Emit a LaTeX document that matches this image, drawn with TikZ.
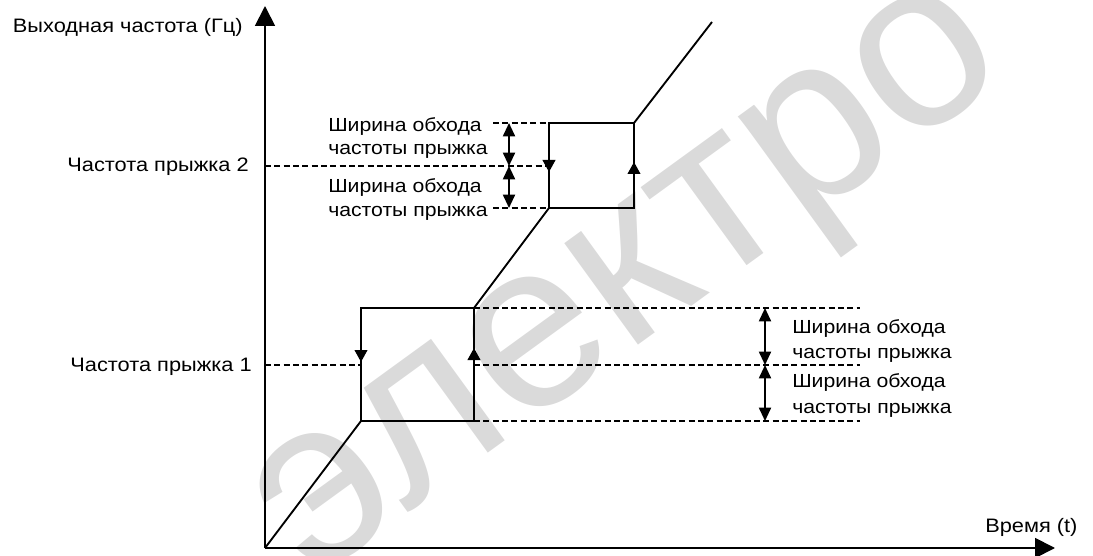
\documentclass[tikz,border=0pt]{standalone}
\usepackage{fontspec}
\setmainfont{Liberation Sans}[FakeStretch=1.12]
\newfontfamily\wmfont{Liberation Sans}
\usetikzlibrary{arrows.meta}
\definecolor{wmgray}{RGB}{218,218,218}
\begin{document}
\begin{tikzpicture}[x=0.75pt,y=-0.75pt,
  axisline/.style={line width=1.4pt,-{Triangle[length=15pt,width=15pt]}},
  curve/.style={line width=1.4pt,line join=miter},
  dline/.style={line width=0.95pt,dash pattern=on 4.5pt off 2.5pt},
  midarrow/.style={line width=1.4pt,-{Triangle[length=9pt,width=9.5pt]}},
  dimarrow/.style={line width=1.4pt,{Triangle[length=10pt,width=9pt]}-{Triangle[length=10pt,width=9pt]}},
  lbl/.style={font=\fontsize{14.2}{17}\selectfont,inner sep=0pt},
  biglbl/.style={font=\fontsize{14.6}{17}\selectfont,inner sep=0pt}
]
\useasboundingbox (0,0) rectangle (1093,556);
% watermark
\node[rotate=36,text=wmgray,font=\wmfont\fontsize{178}{178}\selectfont,inner sep=0pt] (wm) at (640,295) {электро};

% key points
\coordinate (O) at (265,548);
\coordinate (Ytip) at (265,6);
\coordinate (Xtip) at (1055,548);
\coordinate (A1) at (361,421); \coordinate (B1) at (474,421);
\coordinate (C1) at (474,308); \coordinate (D1) at (361,308);
\coordinate (A2) at (549,208); \coordinate (B2) at (634,208);
\coordinate (C2) at (634,123); \coordinate (D2) at (549,123);
\coordinate (E) at (712,22);
\coordinate (M1L) at (265,365); \coordinate (M1B) at (361,365);
\coordinate (M1R) at (474,365); \coordinate (M1E) at (860,365);
\coordinate (T1E) at (860,308); \coordinate (U1E) at (860,421);
\coordinate (M2L) at (265,166); \coordinate (M2B) at (549,166);
\coordinate (T2S) at (493,123); \coordinate (U2S) at (493,208);

% dashed guide lines
\draw[dline] (M2L) -- (M2B);
\draw[dline] (T2S) -- (D2);
\draw[dline] (U2S) -- (A2);
\draw[dline] (M1L) -- (M1B);
\draw[dline] (M1R) -- (M1E);
\draw[dline] (C1) -- (T1E);
\draw[dline] (B1) -- (U1E);

% axes
\draw[axisline] (O) -- (Ytip);
\draw[axisline] (O) -- (Xtip);

% curve
\draw[curve] (O) -- (A1) -- (B1) -- (C1) -- (A2) -- (B2) -- (C2) -- (E);
\draw[curve] (A1) -- (D1) -- (C1);
\draw[curve] (A2) -- (D2) -- (C2);

% direction arrows on box sides
\draw[midarrow] (361,340) -- (361,362);
\draw[midarrow] (474,372) -- (474,348);
\draw[midarrow] (549,150) -- (549,172);
\draw[midarrow] (634,185) -- (634,162);

% width arrows
\draw[dimarrow] (509,123) -- (509,166);
\draw[dimarrow] (509,166) -- (509,208);
\draw[dimarrow] (765,308) -- (765,365);
\draw[dimarrow] (765,365) -- (765,421);

% labels
\node[biglbl,anchor=base east] (ylab) at (243,33) {Выходная частота (Гц)};
\node[biglbl,anchor=base west] (xlab) at (985,532) {Время (t)};
\node[biglbl,anchor=base east] (f2) at (249,172) {Частота прыжка 2};
\node[biglbl,anchor=base east] (f1) at (252,371) {Частота прыжка 1};

\node[lbl,anchor=base west] (u1a) at (328,132) {Ширина обхода};
\node[lbl,anchor=base west] (u1b) at (328,155) {частоты прыжка};
\node[lbl,anchor=base west] (u2a) at (328,193) {Ширина обхода};
\node[lbl,anchor=base west] (u2b) at (328,217) {частоты прыжка};

\node[lbl,anchor=base west] (l1a) at (792,333) {Ширина обхода};
\node[lbl,anchor=base west] (l1b) at (792,358) {частоты прыжка};
\node[lbl,anchor=base west] (l2a) at (792,387) {Ширина обхода};
\node[lbl,anchor=base west] (l2b) at (792,413) {частоты прыжка};
\end{tikzpicture}
\end{document}
